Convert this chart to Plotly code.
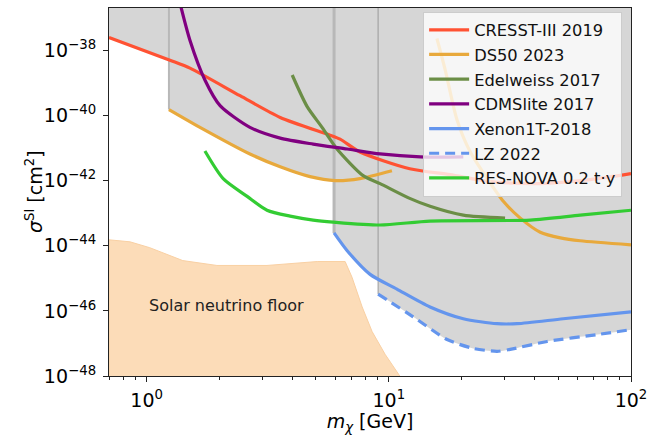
import plotly.graph_objects as go

# ---------------- data ----------------
cresst_m = [0.699, 1.248, 1.51, 2.43, 3.56, 5.72, 6.29, 7.60, 12.2, 17.9, 26.2, 42.2, 67.9, 100]
cresst_s = [2.48e-38, 4.98e-39, 2.85e-39, 4.04e-40, 8.7e-41, 2.48e-41, 1.87e-41, 7.57e-42,
            2.31e-42, 1.52e-42, 9.3e-43, 8.1e-43, 1.07e-42, 1.63e-42]

ds50_m = [1.236, 1.66, 2.67, 3.56, 4.73, 6.0, 7.60, 10.3]
ds50_s = [1.52e-40, 4.33e-41, 6.58e-42, 2.65e-42, 1.32e-42, 1.0e-42, 1.15e-42, 2.01e-42]

ds50hi_m = [15.8, 17.1, 19.1, 21.7, 25.5, 29.7, 34.9, 42.2, 51.1, 61.7, 100]
ds50hi_s = [2.31e-38, 2.48e-39, 7.57e-41, 7.57e-42, 1.15e-42, 2.31e-43, 7.05e-44, 2.6e-44,
            1.75e-44, 1.42e-44, 1.07e-44]

edel_m = [3.99, 4.60, 5.30, 6.11, 7.83, 9.20, 12.2, 14.8, 20.3, 30.2]
edel_s = [1.75e-39, 1.87e-40, 4.33e-41, 9.33e-42, 1.42e-42, 8.1e-43, 2.85e-43, 1.63e-43,
          8.7e-44, 7.05e-44]

cdms_m = [1.366, 1.51, 1.74, 2.01, 2.67, 3.56, 4.87, 6.73, 9.20, 13.5, 20.3]
cdms_s = [3.27e-37, 2.01e-38, 1.23e-39, 2.01e-40, 4.33e-41, 2.01e-41, 1.32e-41, 9.33e-42,
          6.58e-42, 5.33e-42, 5.33e-42]

xenon_m = [5.94, 6.73, 8.37, 10.8, 14.8, 20.3, 28.0, 33.9, 52.5, 100]
xenon_s = [2.48e-44, 7.05e-45, 1.32e-45, 4.65e-46, 1.32e-46, 5.73e-47, 4.04e-47, 4.04e-47,
           5.73e-47, 9.33e-47]

lz_m = [9.03, 12.6, 17.4, 22.3, 28.0, 31.7, 45.1, 72.6, 100]
lz_s = [3.27e-46, 6.58e-47, 1.32e-47, 7.05e-48, 5.73e-48, 6.58e-48, 1.15e-47, 1.87e-47, 2.65e-47]

resnova_m = [1.74, 2.07, 2.60, 3.14, 3.91, 4.87, 5.89, 9.20, 14.8, 38.4, 61.7, 100]
resnova_s = [8.1e-42, 1.15e-42, 3.27e-43, 1.23e-43, 8.1e-44, 6.14e-44, 5.33e-44, 4.33e-44,
             5.73e-44, 6.14e-44, 8.7e-44, 1.23e-43]

floor_m = [0.699, 0.853, 1.03, 1.41, 1.95, 3.14, 5.06, 6.60, 7.05, 7.76, 8.53, 9.65, 11.1]
floor_s = [1.52e-44, 1.32e-44, 8.7e-45, 3.5e-45, 2.48e-45, 2.48e-45, 3.27e-45, 3.27e-45,
           1.07e-45, 1.32e-46, 2.31e-47, 4.65e-48, 1.0e-48]

x_tickvals = [1, 10, 100]
x_ticktext = ["10<sup>0</sup>", "10<sup>1</sup>", "10<sup>2</sup>"]
x_minor = [0.7, 0.8, 0.9, 2, 3, 4, 5, 6, 7, 8, 9, 20, 30, 40, 50, 60, 70, 80, 90]
y_tickvals = [1e-48, 1e-46, 1e-44, 1e-42, 1e-40, 1e-38]
y_ticktext = ["10<sup>\u221248</sup>", "10<sup>\u221246</sup>", "10<sup>\u221244</sup>",
              "10<sup>\u221242</sup>", "10<sup>\u221240</sup>", "10<sup>\u221238</sup>"]

TOP = 1e-35      # upper closure of the excluded regions (outside view)
BOTTOM = 1e-50   # lower closure of the floor region (outside view)

GRAY = "#d6d6d6"
FONT = "DejaVu Sans"
SMOOTH = 0.7

fig = go.Figure()

# excluded regions (opaque gray, union): fill between a top line and the limit curve
for m, s in [(cresst_m, cresst_s), (ds50_m, ds50_s), (xenon_m, xenon_s), (lz_m, lz_s)]:
    fig.add_trace(go.Scatter(x=[m[0], m[-1]], y=[TOP, TOP], mode="lines",
                             line=dict(width=0, color=GRAY), showlegend=False, hoverinfo="skip"))
    fig.add_trace(go.Scatter(x=m, y=s, mode="lines", fill="tonexty", fillcolor=GRAY,
                             line=dict(width=0, color=GRAY, shape="spline", smoothing=SMOOTH),
                             showlegend=False, hoverinfo="skip"))

# fill edges
for m, s, c, w in [(ds50_m, ds50_s, "#b8b8b8", 2), (xenon_m, xenon_s, "#b8b8b8", 3),
                   (lz_m, lz_s, "#9a9a9a", 1)]:
    fig.add_trace(go.Scatter(x=[m[0], m[0]], y=[s[0], TOP], mode="lines",
                             line=dict(color=c, width=w), showlegend=False, hoverinfo="skip"))

# neutrino floor
fig.add_trace(go.Scatter(x=floor_m + [floor_m[-1], floor_m[0], floor_m[0]],
                         y=floor_s + [BOTTOM, BOTTOM, floor_s[0]],
                         fill="toself", fillcolor="#fcdcb8", mode="lines",
                         line=dict(width=1, color="#f9d0a3"), showlegend=False, hoverinfo="skip"))

LW = 3.2
series = [
    ("CRESST-III 2019", cresst_m, cresst_s, "#ff5233", "solid"),
    ("DS50 2023", ds50_m, ds50_s, "#e8a93c", "solid"),
    ("Edelweiss 2017", edel_m, edel_s, "#6b8e46", "solid"),
    ("CDMSlite 2017", cdms_m, cdms_s, "#800080", "solid"),
    ("Xenon1T-2018", xenon_m, xenon_s, "#6495ed", "solid"),
    ("LZ 2022", lz_m, lz_s, "#6495ed", "10px,6px"),
    ("RES-NOVA 0.2 t\u00b7y", resnova_m, resnova_s, "#33cc33", "solid"),
]
for i, (name, m, s, c, d) in enumerate(series):
    fig.add_trace(go.Scatter(x=m, y=s, mode="lines", name=name, legendgroup=name,
                             legendrank=i + 1,
                             line=dict(color=c, width=LW, dash=d, shape="spline",
                                       smoothing=SMOOTH)))
    if name == "DS50 2023":
        fig.add_trace(go.Scatter(x=ds50hi_m, y=ds50hi_s, mode="lines", name=name,
                                 legendgroup=name, showlegend=False,
                                 line=dict(color=c, width=LW, shape="spline",
                                           smoothing=SMOOTH)))

fig.add_annotation(x=0.3277, y=-45.82, xref="x", yref="y", text="Solar neutrino floor",
                   showarrow=False, font=dict(family=FONT, size=16, color="#222"))

# y-axis title placed as rotated text left of the tick labels
fig.add_annotation(x=-0.1435, y=0.5, xref="paper", yref="paper", xanchor="center",
                   yanchor="middle", textangle=-90, showarrow=False,
                   text="<i>\u03c3</i><sup>SI</sup> [cm<sup>2</sup>]",
                   font=dict(family=FONT, size=19, color="black"))

fig.update_layout(
    width=654, height=435,
    margin=dict(l=109, r=23, t=7, b=55),
    plot_bgcolor="white", paper_bgcolor="white",
    font=dict(family=FONT, size=19, color="black"),
    showlegend=True,
    legend=dict(x=0.983, y=0.99, xanchor="right", yanchor="top",
                bgcolor="rgba(255,255,255,0.78)", bordercolor="#cccccc", borderwidth=1,
                font=dict(family=FONT, size=16.3, color="#111"),
                tracegroupgap=0.5, itemwidth=40),
)
fig.update_xaxes(type="log", range=[-0.1555, 2.0], showgrid=False, zeroline=False,
                 showline=True, mirror=True, linecolor="#222", linewidth=1.2,
                 ticks="outside", ticklen=5, tickwidth=1, tickcolor="#222",
                 tickmode="array", tickvals=x_tickvals, ticktext=x_ticktext,
                 tickfont=dict(size=19), ticklabelstandoff=2,
                 minor=dict(ticks="outside", ticklen=3, tickwidth=0.8, tickcolor="#222",
                            tickmode="array", tickvals=x_minor, showgrid=False),
                 title=dict(text="<i>m</i><sub><i>\u03c7</i></sub> [GeV]", standoff=4,
                            font=dict(size=19)))
fig.update_yaxes(type="log", range=[-48.0, -36.7], showgrid=False, zeroline=False,
                 showline=True, mirror=True, linecolor="#222", linewidth=1.2,
                 ticks="outside", ticklen=5, tickwidth=1, tickcolor="#222",
                 tickmode="array", tickvals=y_tickvals, ticktext=y_ticktext,
                 tickfont=dict(size=19), ticklabelstandoff=3)

fig.write_html("out.html")
